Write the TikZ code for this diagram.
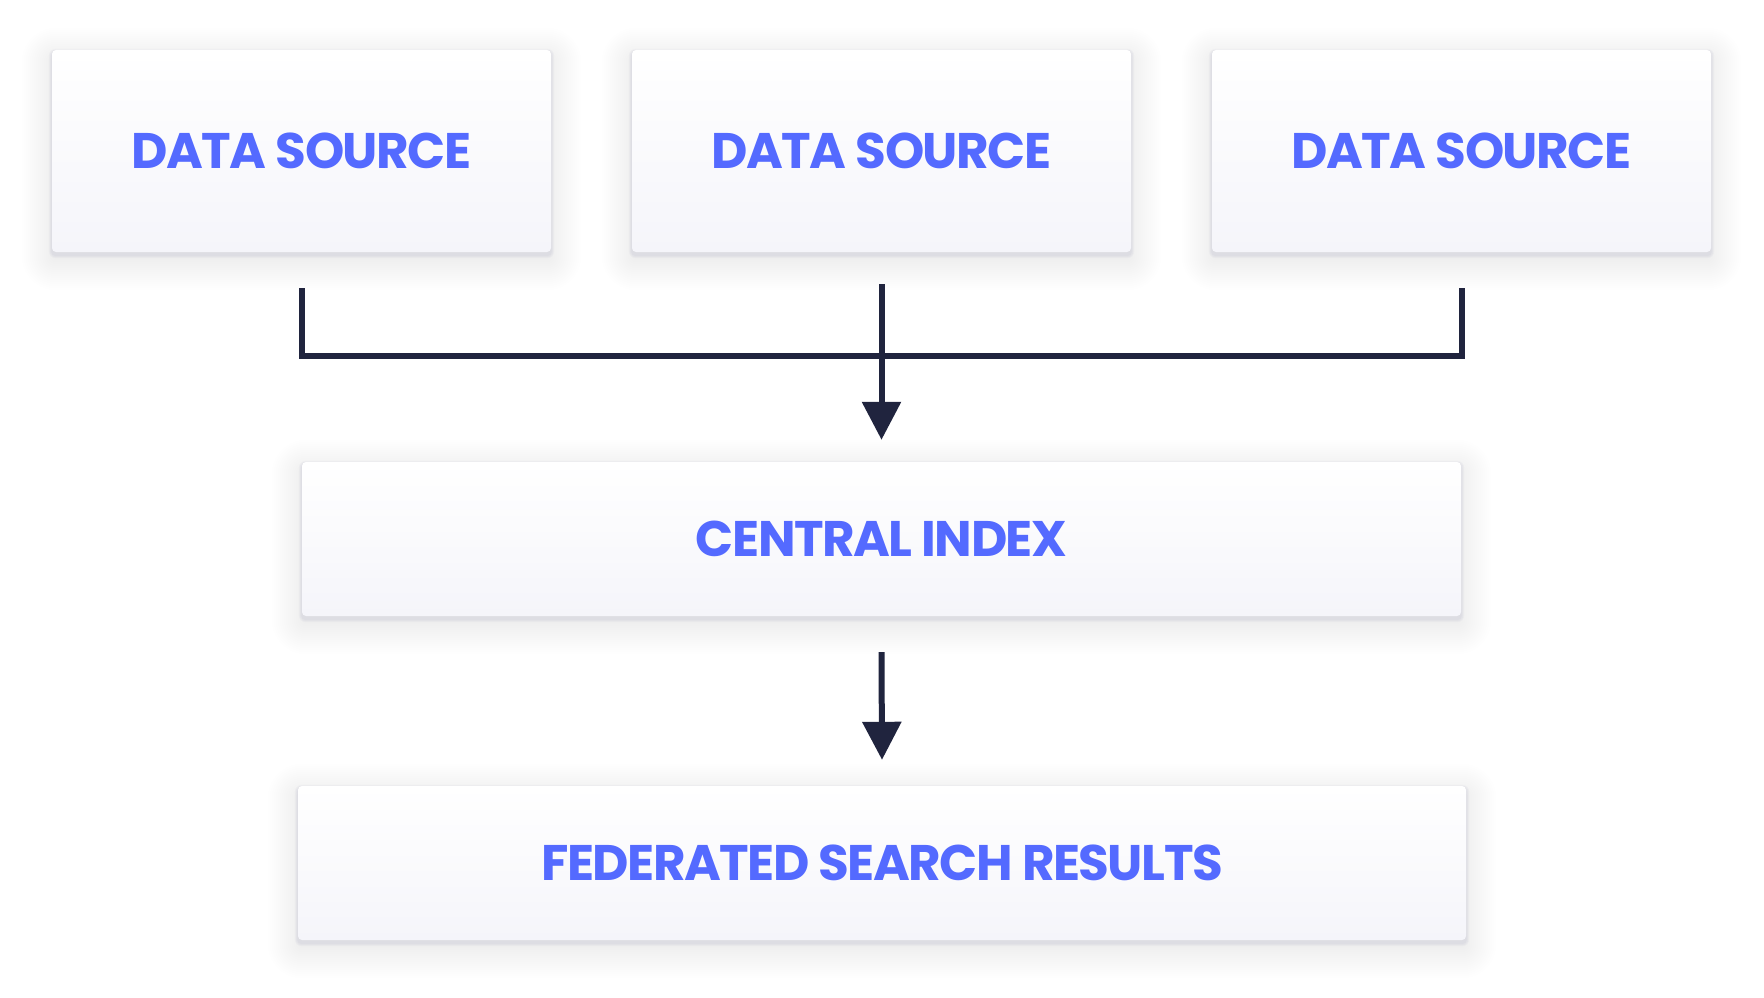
\documentclass[tikz,border=0pt]{standalone}
\usepackage{fontspec}
\setmainfont{Poppins}
\usetikzlibrary{arrows.meta,backgrounds}

\definecolor{labelblue}{RGB}{84,106,255}
\definecolor{wirenavy}{RGB}{32,36,62}
\definecolor{cardbottom}{RGB}{245,245,250}
\definecolor{shadowtint}{RGB}{80,80,140}

\tikzset{
  card/.style={rounded corners=4pt, top color=white, bottom color=cardbottom,
    inner sep=0pt, text=labelblue,
    font=\fontsize{50}{60}\selectfont\bfseries\addfontfeatures{LetterSpace=-3}},
  haze/.style={fill=shadowtint, opacity=0.0035},
  rim/.style={fill=shadowtint, opacity=0.035},
  wire/.style={draw=wirenavy, line width=6pt, line join=miter},
  flow/.style={wire, -{Triangle[width=38pt,length=38pt]}}
}

\begin{document}
\begin{tikzpicture}[x=1pt,y=-1pt]
  % 设置方框的宽度和高度
  \def\srcWidth{499}
  \def\srcHeight{202}
  \def\idxWidth{1159}
  \def\idxHeight{154}
  \def\resWidth{1168}
  \def\resHeight{154}

  % 画布范围
  \useasboundingbox (0,0) rectangle (1764,998);

  % 绘制三个数据源
  \foreach \i/\x in {1/301.5, 2/881.5, 3/1461.5}
    \node[card, minimum width=\srcWidth, minimum height=\srcHeight] (src\i) at (\x,151) {DATA SOURCE};

  % 绘制中央索引
  \node[card, minimum width=\idxWidth, minimum height=\idxHeight] (index) at (881.5,539) {CENTRAL INDEX};

  % 绘制检索结果
  \node[card, minimum width=\resWidth, minimum height=\resHeight] (results) at (882,863) {FEDERATED SEARCH RESULTS};

  % 白色底和阴影
  \begin{pgfonlayer}{background}
    \fill[white] (0,0) rectangle (1764,998);
    \foreach \n in {src1,src2,src3,index,results} {
      \foreach \k in {0,2,...,30}
        \fill[haze, rounded corners=4+\k] ([shift={(-\k,8-\k)}]\n.north west) rectangle ([shift={(\k,8+\k)}]\n.south east);
      \foreach \k in {1,2,3}
        \fill[rim, rounded corners=4+\k] ([shift={(-\k,2-\k)}]\n.north west) rectangle ([shift={(\k,3+\k)}]\n.south east);
    }
  \end{pgfonlayer}

  % 汇合线
  \coordinate (hub) at (881.5,356);
  \draw[wire] ([yshift=-36pt]src1.south) -- (src1.south |- hub) -- (src3.south |- hub) -- ([yshift=-36pt]src3.south);

  % 箭头
  \draw[flow] ([yshift=-32pt]src2.south) -- ([yshift=22pt]index.north);
  \draw[flow] ([yshift=-36pt]index.south) -- ([yshift=26pt]results.north);
\end{tikzpicture}
\end{document}
